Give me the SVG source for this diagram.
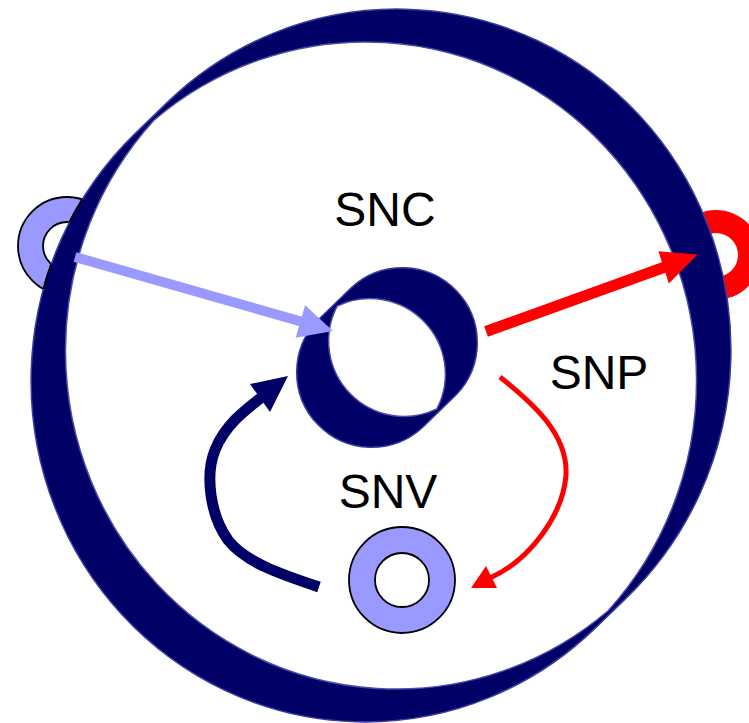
<svg xmlns="http://www.w3.org/2000/svg" width="749" height="723" viewBox="0 0 749 723">
<style>
.navy{fill:#000066;stroke:#3c3ca0;stroke-width:1.5}
.hole{fill:#ffffff;stroke:#4a4aa8;stroke-width:1.5}
.lite{fill:#9999ff;stroke:#000000;stroke-width:1.8}
.label{font-family:"Liberation Sans",Arial,sans-serif;font-size:48px;fill:#000000;text-anchor:middle}
.shaft{fill:none}
</style>
<defs>
<clipPath id="liteAnn"><path clip-rule="evenodd" d="M18,246 a49,49 0 1 0 98,0 a49,49 0 1 0 -98,0 Z M43,246 a24,24 0 1 1 48,0 a24,24 0 1 1 -48,0 Z"/></clipPath>
</defs>
<g id="port-out">
<path fill="#ff0000" fill-rule="evenodd" d="M671,255 a45,45 0 1 0 90,0 a45,45 0 1 0 -90,0 Z M694,255 a22,22 0 1 1 44,0 a22,22 0 1 1 -44,0 Z"/>
</g>
<g id="port-in">
<path class="lite" fill-rule="evenodd" d="M18,246 a49,49 0 1 0 98,0 a49,49 0 1 0 -98,0 Z M43,246 a24,24 0 1 1 48,0 a24,24 0 1 1 -48,0 Z"/>
</g>
<g id="outer-ring">
<path class="navy" d="M594.9,628.4 L626.9,597.4 A334,341 0 0 0 167.1,102.6 L135.1,133.6 A334,341 0 0 0 594.9,628.4 Z"/>
<path class="hole" d="M153.8,120.3 A331,338.5 0 0 1 608.2,610.7 A331,338.5 0 0 1 153.8,120.3 Z"/>
<ellipse cx="365" cy="381" rx="334" ry="341" fill="none" stroke="#000000" stroke-width="2" clip-path="url(#liteAnn)"/>
</g>
<g id="SNC">
<path class="navy" d="M422.2,427.8 L456.2,394.8 A75,75 0 0 0 351.8,287.2 L317.8,320.2 A75,75 0 0 0 422.2,427.8 Z"/>
<path class="hole" d="M337.1,306.1 A75.5,75.5 0 0 1 436.9,408.9 A75.5,75.5 0 0 1 337.1,306.1 Z"/>
<text class="label" x="385" y="226">SNC</text>
</g>
<g id="SNV">
<path class="lite" fill-rule="evenodd" d="M349,580 a53,53 0 1 0 106,0 a53,53 0 1 0 -106,0 Z M375,580 a27,27 0 1 1 54,0 a27,27 0 1 1 -54,0 Z"/>
<text class="label" x="388" y="508">SNV</text>
</g>
<g id="SNP">
<text class="label" x="599" y="389">SNP</text>
</g>
<g id="connectors">
<path class="shaft" stroke="#9999ff" stroke-width="10" d="M75,257 L301,321.5"/>
<polygon fill="#9999ff" points="333,331 295.7,337.8 305.1,305.2"/>
<path class="shaft" stroke="#ff0000" stroke-width="11" d="M486,331.5 L665,267"/>
<polygon fill="#ff0000" points="697.6,254.5 658.4,251.3 668.9,283.5"/>
<path class="shaft" stroke="#ff0000" stroke-width="5" d="M500,377 C535,405 568,435 566,475 C563,515 530,560 490,578"/>
<polygon fill="#ff0000" points="471,588 486,566 497,588"/>
<path class="shaft" stroke="#000066" stroke-width="11" d="M319,587 C280,574 245,562 228,540 C210,515 205,475 215,450 C225,425 245,410 262,397"/>
<polygon fill="#000066" points="288,376 250,384 270,412"/>
</g>
</svg>
